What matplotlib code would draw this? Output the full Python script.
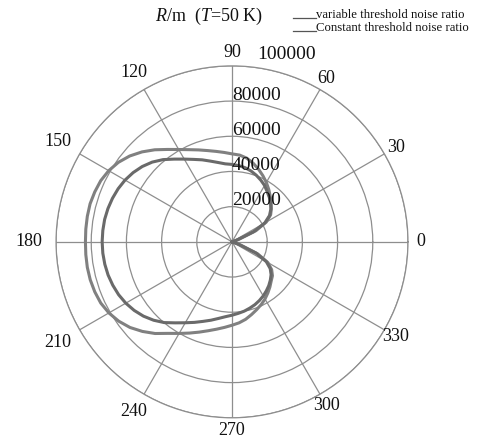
import numpy as np
import matplotlib
matplotlib.use('Agg')
import matplotlib.pyplot as plt
from matplotlib.lines import Line2D
from matplotlib.transforms import offset_copy

plt.rcParams['font.family'] = ['Liberation Serif', 'DejaVu Serif']
plt.rcParams['mathtext.fontset'] = 'custom'
plt.rcParams['mathtext.rm'] = 'Liberation Serif'
plt.rcParams['mathtext.it'] = 'Liberation Serif:italic'

# angle in degrees, 0..360 step 5
angles_deg = np.arange(0, 365, 5)

# R (in thousands of m)
variable_k = [0, 0, 0, 0, 4, 15, 22.5, 26.8, 29.2, 31.5, 33.8, 36.4, 39, 41.5, 44, 46.3, 48.3, 49.5,
              50, 51.0, 52.2, 53.7, 55.6, 57.8, 60.6, 64.1, 68.3, 72.3, 75.9, 78.8, 80.9, 82.3, 83.0,
              83.5, 83.5, 83.4, 83.3,
              83.4, 83.5, 83.4, 83.0, 82.3, 80.8, 78.6, 75.7, 72, 68, 63.5, 60.1, 57.2, 54.6, 52.3,
              50.4, 48.8, 47.4, 46.2, 44.7, 42.8, 41, 39.3, 37.5, 35.5, 33.5, 31.5, 30, 27.5, 23.5,
              16, 5, 0, 0, 0, 0]
constant_k = [0, 0, 0, 0, 3, 13.5, 21.5, 26, 28.8, 31, 33, 34.8, 37, 38.7, 40.3, 41.7, 42.8, 43.5,
              44, 44.5, 45.8, 47.5, 49.6, 51.7, 54.3, 57.4, 61.0, 64.1, 66.6, 68.6, 70.2, 71.4, 72.3,
              73.0, 73.5, 73.7, 73.8,
              73.7, 73.4, 72.9, 72.1, 71.1, 69.7, 67.9, 65.7, 63.0, 59.9, 56.2, 53.1, 50.5, 48.1, 46.1,
              44.2, 42.7, 41.7, 40.8, 40, 39, 38, 36.8, 35.5, 34, 32.5, 30.8, 29, 26.5, 22.5,
              15, 4, 0, 0, 0, 0]

r_ticks = [20000, 40000, 60000, 80000, 100000]
theta_ticks = list(range(0, 360, 30))

theta = np.deg2rad(angles_deg)
variable = np.array(variable_k) * 1000
constant = np.array(constant_k) * 1000

fig = plt.figure(figsize=(4.84, 4.41), dpi=100)
ax = fig.add_axes([0.1157, 0.0526, 0.7273, 0.798], projection='polar')

grid_c = '#8e8e8e'
ax.plot(theta, variable, color='#808080', lw=2.2, zorder=3)
ax.plot(theta, constant, color='#6a6a6a', lw=2.2, zorder=3)

ax.set_ylim(0, 100000)
ax.set_rgrids(r_ticks, labels=[''] * len(r_ticks))
ax.set_thetagrids(theta_ticks, labels=[''] * len(theta_ticks))
ax.grid(True, color=grid_c, lw=0.9)
ax.spines['polar'].set_color(grid_c)
ax.spines['polar'].set_linewidth(0.9)
ax.tick_params(length=0)

# angle labels (Excel-like placement, a bit further out on the left)
for d in theta_ticks:
    a = np.deg2rad(d)
    dist = (189 + 14 * max(0, -np.cos(a))) / 352
    ax.text(0.5 + dist * np.cos(a), 0.5 + dist * np.sin(a), str(d), transform=ax.transAxes,
            ha='center', va='center', fontsize=13, color='#111111')

# radial labels along the 90 degree axis
for r in r_ticks:
    if r == 100000:
        tr = offset_copy(ax.transData, fig=fig, x=25, y=6.5, units='dots')
    else:
        tr = offset_copy(ax.transData, fig=fig, x=0, y=1.5, units='dots')
    ax.text(np.pi / 2, r, str(r), transform=tr, ha='left', va='baseline',
            fontsize=14, color='#111111')

fig.text(155 / 484, 1 - 21 / 441, r'$\mathit{R}$/m  ($\mathit{T}$=50 K)', ha='left', va='baseline',
         fontsize=13, color='#111111')

# legend
labels = ['variable threshold noise ratio', 'Constant threshold noise ratio']
for i, lab in enumerate(labels):
    yb = 1 - (17.5 + 13.5 * i) / 441
    fig.add_artist(Line2D([293 / 484, 316 / 484], [yb, yb], transform=fig.transFigure,
                          color='#555555', lw=0.9))
    fig.text(316.5 / 484, yb, lab, ha='left', va='baseline', fontsize=9.2, color='#111111')

fig.savefig('out.png', dpi=100)
